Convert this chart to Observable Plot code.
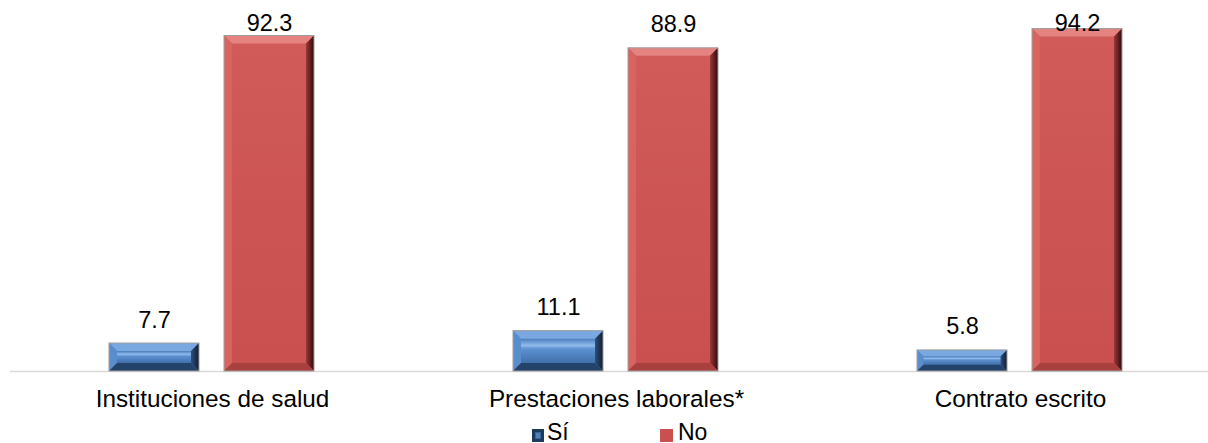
<!DOCTYPE html>
<html><head><meta charset="utf-8">
<script src="https://cdn.jsdelivr.net/npm/d3@7"></script>
<script src="https://cdn.jsdelivr.net/npm/@observablehq/plot@0.6"></script>
<style>
html,body{margin:0;padding:0;background:#fff;overflow:hidden;width:1208px;height:443px;}
#chart{position:relative;width:1208px;height:443px;overflow:hidden;font-family:"Liberation Sans",Arial,sans-serif;}
#plot{position:absolute;left:0;top:0;width:1232px;height:418px;}
#plot svg{max-width:none !important;}
#legend{position:absolute;left:0;top:418px;width:1208px;height:25px;font-size:23px;line-height:26px;color:#000;}
.item{position:absolute;top:1px;display:flex;align-items:flex-start;}
.sw{width:12px;height:13px;margin-top:10px;margin-right:3px;box-sizing:border-box;}
</style></head><body><div id="chart"><div id="plot"></div><div id="legend"></div></div>
<script>
const categories = ["Instituciones de salud", "Prestaciones laborales*", "Contrato escrito"];
const series = ["Sí", "No"];
const si = [7.7, 11.1, 5.8];
const no = [92.3, 88.9, 94.2];
const labelCap = 89.4;

const rows = categories.flatMap((c, i) => [
  {category: c, series: "Sí", value: si[i]},
  {category: c, series: "No", value: no[i]}
]);

const SI_FILL = "#4f81bd", NO_FILL = "#cd5654";
const font = '"Liberation Sans", Arial, sans-serif';
const plot = Plot.plot({
  width: 1232, height: 418,
  marginLeft: 10, marginRight: 10, marginTop: 7.5, marginBottom: 47,
  style: {fontFamily: font, fontSize: "23px", color: "#000", background: "transparent", overflow: "visible"},
  fx: {domain: categories, padding: 0, label: null},
  x: {domain: series, paddingInner: 0.217, paddingOuter: 0.865, axis: null},
  y: {domain: [0, 100], axis: null},
  marks: [
    Plot.ruleY([0], {stroke: "#d9d9d9", strokeWidth: 1.5}),
    Plot.barY(rows.filter(d => d.series === "Sí"), {fx: "category", x: "series", y: "value", fill: SI_FILL}),
    Plot.barY(rows.filter(d => d.series === "No"), {fx: "category", x: "series", y: "value", fill: NO_FILL}),
    Plot.text(rows, {fx: "category", x: "series", y: d => Math.min(d.value, labelCap), text: d => d.value.toFixed(1), lineAnchor: "bottom", dy: -16, fontSize: 23.5, fill: "#000"}),
    Plot.axisFx({anchor: "bottom", tickSize: 0, tickPadding: 18, fontSize: 24.3, label: null, fill: "#000"})
  ]
});
document.getElementById("plot").appendChild(plot);

const svg = plot.tagName.toLowerCase() === "svg" ? plot : plot.querySelector("svg");
svg.style.maxWidth = "none";
svg.style.width = "1232px";
svg.style.height = "418px";
const NS = "http://www.w3.org/2000/svg";
const defs = document.createElementNS(NS, "defs");
defs.innerHTML = `
<linearGradient id="blueFace" x1="0" y1="0" x2="0" y2="1">
  <stop offset="0" stop-color="#4a7cbc"/><stop offset="0.28" stop-color="#8fbaec"/>
  <stop offset="0.42" stop-color="#5d91d1"/><stop offset="1" stop-color="#4170aa"/>
</linearGradient>
<linearGradient id="blueRight" x1="0" y1="0" x2="1" y2="0">
  <stop offset="0" stop-color="#2d4f7c"/><stop offset="1" stop-color="#101d30"/>
</linearGradient>
<linearGradient id="redFace" x1="0" y1="0" x2="0" y2="1">
  <stop offset="0" stop-color="#d05b59"/><stop offset="1" stop-color="#c9504e"/>
</linearGradient>
<linearGradient id="redRight" x1="0" y1="0" x2="1" y2="0">
  <stop offset="0" stop-color="#9a3836"/><stop offset="1" stop-color="#2e0b0b"/>
</linearGradient>`;
svg.insertBefore(defs, svg.firstChild);

function barsWithFill(color) {
  const out = [];
  svg.querySelectorAll("rect").forEach(r => {
    let f = r.getAttribute("fill");
    let n = r.parentNode;
    while (!f && n && n !== svg) { f = n.getAttribute && n.getAttribute("fill"); n = n.parentNode; }
    if (f && f.toLowerCase() === color) out.push(r);
  });
  return out;
}

function bevel(color, c) {
  barsWithFill(color).forEach(r => {
    const x = +r.getAttribute("x"), y = +r.getAttribute("y");
    const w = +r.getAttribute("width"), h = +r.getAttribute("height");
    const b = Math.min(8, h * 0.3);
    const p = r.parentNode;
    const poly = (pts, fill) => {
      const el = document.createElementNS(NS, "polygon");
      el.setAttribute("points", pts.map(q => q.join(",")).join(" "));
      el.setAttribute("fill", fill);
      p.appendChild(el);
    };
    poly([[x + b, y + b], [x + w - b, y + b], [x + w - b, y + h - b], [x + b, y + h - b]], c.face);
    poly([[x, y], [x + w, y], [x + w - b, y + b], [x + b, y + b]], c.top);
    poly([[x, y], [x + b, y + b], [x + b, y + h - b], [x, y + h]], c.left);
    poly([[x + w, y], [x + w, y + h], [x + w - b, y + h - b], [x + w - b, y + b]], c.right);
    poly([[x, y + h], [x + b, y + h - b], [x + w - b, y + h - b], [x + w, y + h]], c.bottom);
    const o = r.cloneNode();
    o.setAttribute("fill", "none");
    o.setAttribute("stroke", "#a0a0a0");
    o.setAttribute("stroke-width", "1");
    p.appendChild(o);
  });
}
bevel(SI_FILL, {face: "url(#blueFace)", top: "#79a8e0", left: "#5a8dcc", right: "url(#blueRight)", bottom: "#24436a"});
bevel(NO_FILL, {face: "url(#redFace)", top: "#e58380", left: "#d9645f", right: "url(#redRight)", bottom: "#a8403e"});

const legend = document.getElementById("legend");
legend.innerHTML = `
<div class="item" style="left:532px"><div class="sw" style="background:#4f81bd;border:3px solid #1f3a5f;box-shadow:inset 0 0 0 1px #3a6496"></div><span>Sí</span></div>
<div class="item" style="left:660px"><div class="sw" style="background:#c9504e;width:13px;margin-right:5px"></div><span>No</span></div>`;
</script></body></html>
